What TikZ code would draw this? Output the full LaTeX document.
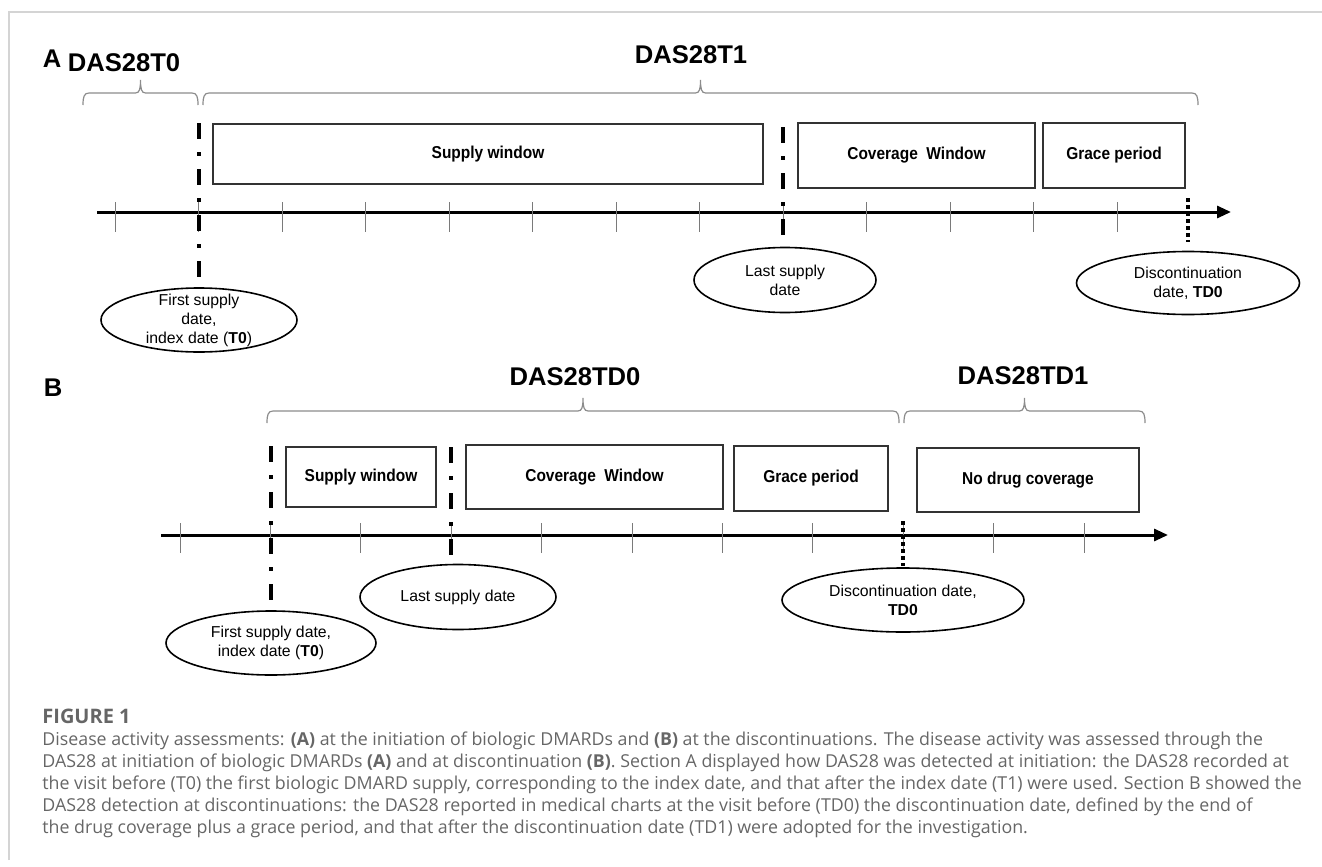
\documentclass[tikz,border=0pt]{standalone}
\usepackage{fontspec}
\setmainfont{Liberation Sans}
\newfontfamily\boxfont{Liberation Sans}[FakeStretch=0.9]
\newfontfamily\capfont{Open Sans}
\usepackage{tikz}
\usetikzlibrary{arrows.meta,positioning,shapes.geometric}
\definecolor{boxgray}{HTML}{333333}
\definecolor{bracegray}{HTML}{8C8C8C}
\definecolor{tickgray}{HTML}{7A7A7A}
\definecolor{framegray}{HTML}{D4D4D4}
\definecolor{capgray}{HTML}{666666}

% curly brace over a span: left x, right x, y of the two feet
\newcommand{\spanbrace}[3]{%
	\pgfmathsetmacro{\bmid}{(#1+#2)/2}%
	\draw[brace line] (#1,#3) .. controls (#1,#3-8) and (#1+1,#3-12) .. (#1+6,#3-12)
	-- (\bmid-5,#3-12) .. controls (\bmid-1,#3-12) and (\bmid,#3-16) .. (\bmid,#3-25)
	.. controls (\bmid,#3-16) and (\bmid+1,#3-12) .. (\bmid+5,#3-12)
	-- (#2-6,#3-12) .. controls (#2-1,#3-12) and (#2,#3-8) .. (#2,#3);}

\begin{document}
\begin{tikzpicture}[x=0.5pt,y=-0.5pt,>={Triangle[length=7pt,width=6pt]},
		period node/.style={rectangle,draw=boxgray,line width=1pt,inner sep=0pt,
			font=\boxfont\fontsize{8.6}{10}\selectfont\bfseries},
		date node/.style={ellipse,draw,line width=0.8pt,inner sep=-3pt,align=center,
			font=\fontsize{7.9}{9.5}\selectfont},
		title node/.style={inner sep=0pt,font=\fontsize{12.8}{15}\selectfont\bfseries},
		tick line/.style={draw=tickgray,line width=0.5pt},
		axis line/.style={->,line width=1.5pt},
		brace line/.style={draw=bracegray,line width=0.6pt},
		dashdot mark/.style={line width=2pt,dash pattern=on 8pt off 6.5pt on 2pt off 6.5pt},
		dot mark/.style={line width=2pt,dash pattern=on 2pt off 1.5pt}]
		
		\useasboundingbox (0,0) rectangle (1322,867);
		\draw[framegray,line width=1pt] (9,860) -- (9,12) -- (1322,12);
		
		% panel A
		\node[title node] (labA) at (52,59) {A};
		\node[title node] (t0) at (124,63) {DAS28T0};
		\node[title node] (t1) at (691,55) {DAS28T1};
		\spanbrace{83}{198}{105}
		\spanbrace{203}{1198}{105}
		
		\node[period node,minimum width=275pt,minimum height=30pt] (supA) at (488,154) {Supply window};
		\node[period node,minimum width=118.5pt,minimum height=32.5pt] (covA) at (916.5,155.5) {Coverage\ \ Window};
		\node[period node,minimum width=71pt,minimum height=32.5pt] (graA) at (1114,155.5) {Grace period};
		
		\coordinate (axA) at (97,212);
		\coordinate (endA) at (1231,212);
		\draw[axis line] (axA) -- (endA);
		\foreach \i in {0,...,12}
			\draw[tick line] ({115+83.5*\i},202) -- ++(0,30);
		
		\node[date node,minimum width=98pt,minimum height=32pt] (fstA) at (199,320) {First supply\\date,\\index date (\textbf{T0})};
		\node[date node,minimum width=91pt,minimum height=32.5pt] (lstA) at (785,280) {Last supply\\date};
		\node[date node,minimum width=111.5pt,minimum height=31.5pt] (disA) at (1188,283) {Discontinuation\\date, \textbf{TD0}};
		
		\coordinate (mFstA) at (199,123);
		\coordinate (mLstA) at (783,127);
		\coordinate (mDisA) at (1188,198);
		\draw[dashdot mark,shorten >=3pt] (mFstA) -- (mFstA |- fstA.north);
		\draw[dashdot mark,shorten >=4.5pt] (mLstA) -- (mLstA |- lstA.north);
		\draw[dot mark,shorten >=4.5pt] (mDisA) -- (mDisA |- disA.north);
		
		% panel B
		\node[title node] (labB) at (53,388) {B};
		\node[title node] (td0) at (575,377) {DAS28TD0};
		\node[title node] (td1) at (1023,376) {DAS28TD1};
		\spanbrace{267}{899}{423}
		\spanbrace{904}{1145}{423}
		
		\node[period node,minimum width=75pt,minimum height=30pt] (supB) at (361,477) {Supply window};
		\node[period node,minimum width=128.5pt,minimum height=32pt] (covB) at (594.5,477) {Coverage\ \ Window};
		\node[period node,minimum width=77pt,minimum height=32.5pt] (graB) at (811,478.5) {Grace period};
		\node[period node,minimum width=111pt,minimum height=32pt] (nodB) at (1028,480) {No drug coverage};
		
		\coordinate (axB) at (161,535);
		\coordinate (endB) at (1168,535);
		\draw[axis line] (axB) -- (endB);
		\foreach \i in {0,...,10}
			\draw[tick line] ({180+90.4*\i},523) -- ++(0,30);
		
		\node[date node,minimum width=105pt,minimum height=32pt] (fstB) at (271,643) {First supply date,\\index date (\textbf{T0})};
		\node[date node,minimum width=98pt,minimum height=32.5pt] (lstB) at (458,597) {Last supply date};
		\node[date node,minimum width=121pt,minimum height=32pt] (disB) at (903,600) {Discontinuation date,\\\textbf{TD0}};
		
		\coordinate (mFstB) at (271,446);
		\coordinate (mLstB) at (451,447);
		\coordinate (mDisB) at (903,521);
		\draw[dashdot mark,shorten >=3.5pt] (mFstB) -- (mFstB |- fstB.north);
		\draw[dashdot mark,shorten >=3.5pt] (mLstB) -- (mLstB |- lstB.north);
		\draw[dot mark,shorten >=0.5pt] (mDisB) -- (mDisB |- disB.north);
		
		% caption
		\node[anchor=west,inner sep=0pt,text=capgray,font=\capfont\fontsize{10}{12}\selectfont\bfseries] (figlab) at (42,716) {FIGURE 1};
		\node[anchor=north west,inner sep=0pt,align=left,text=capgray,font=\capfont\fontsize{8.9}{11}\selectfont] (caption) at (42,731)
		{Disease activity assessments: \textbf{(A)} at the initiation of biologic DMARDs and \textbf{(B)} at the discontinuations. The disease activity was assessed through the\\
			DAS28 at initiation of biologic DMARDs \textbf{(A)} and at discontinuation \textbf{(B)}. Section A displayed how DAS28 was detected at initiation: the DAS28 recorded at\\
			the visit before (T0) the first biologic DMARD supply, corresponding to the index date, and that after the index date (T1) were used. Section B showed the\\
			DAS28 detection at discontinuations: the DAS28 reported in medical charts at the visit before (TD0) the discontinuation date, defined by the end of\\
			the drug coverage plus a grace period, and that after the discontinuation date (TD1) were adopted for the investigation.};
		
\end{tikzpicture}
\end{document}
